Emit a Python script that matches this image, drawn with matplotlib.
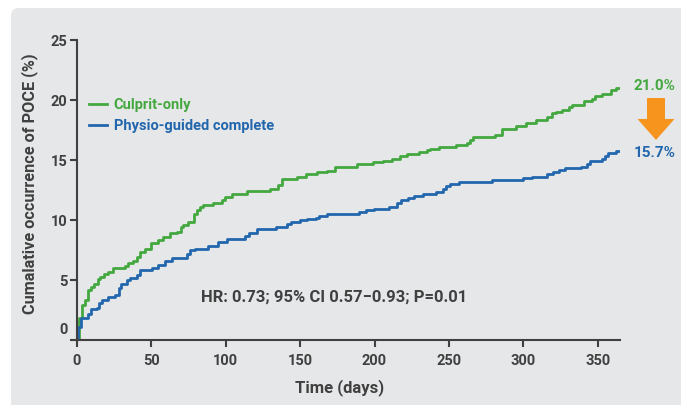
import matplotlib
matplotlib.use("Agg")
import matplotlib.pyplot as plt
from matplotlib.patches import FancyBboxPatch, FancyArrow
from matplotlib.transforms import ScaledTranslation

# Kaplan-Meier style cumulative curves
culprit_days = [0, 1.3, 3.6, 5.4, 7.2, 9.4, 11.6, 13.9, 15.5, 18.4, 21, 24.4, 32.3, 34.5,
                37.9, 40, 42.3, 45.7, 49.7, 54.6, 58, 62.5, 67, 69.9, 71.5, 74.8, 78.8,
                80.4, 82.7, 84.9, 91.6, 97.2, 99.5, 104, 114, 129.7, 135, 138, 147.6,
                153.9, 161, 168, 173.4, 188, 199, 206, 212, 217, 222, 230, 235, 237,
                243.5, 255, 262, 264, 266.3, 281, 286, 295, 302, 308.5, 316, 319.4, 322,
                325.7, 331, 332.8, 340.7, 346, 348, 352.6, 359, 362, 365]
culprit_vals = [0, 1.8, 2.9, 3.3, 4.2, 4.4, 4.7, 5.05, 5.25, 5.5, 5.7, 5.97, 6.2, 6.4,
                6.6, 6.95, 7.3, 7.6, 8.05, 8.3, 8.6, 8.9, 9.0, 9.4, 9.6, 9.85, 10.5,
                10.8, 11.05, 11.25, 11.4, 11.7, 11.95, 12.2, 12.4, 12.6, 12.9, 13.4, 13.6,
                13.8, 14.0, 14.1, 14.4, 14.7, 14.8, 14.9, 15.1, 15.3, 15.5, 15.7, 15.8, 15.95,
                16.1, 16.25, 16.4, 16.7, 16.95, 17.1, 17.6, 17.85, 18.05, 18.3, 18.55, 18.9, 19.0,
                19.2, 19.45, 19.6, 19.95, 20.1, 20.3, 20.5, 20.8, 21.0, 21.0]

physio_days = [0, 0.9, 2.7, 7.2, 9.4, 13.2, 14.8, 17, 21, 25.5, 28.2, 29.6, 33.4, 35.6,
               40.1, 42.3, 50.2, 54.6, 59.1, 63.6, 73.7, 76, 79.3, 88.2, 95, 101, 113,
               115.8, 121, 134, 141.3, 144, 150, 154.8, 160.6, 162.8, 167.8, 189.7, 194,
               199.6, 210, 215, 218, 222.7, 226.5, 232.7, 241.3, 245.8, 248, 250.7, 257,
               278.7, 300, 305.6, 315.7, 319.7, 324, 328, 338.5, 343, 344.8, 352.6, 354.8,
               357, 362, 365]
physio_vals = [0, 1.1, 1.8, 2.2, 2.55, 2.7, 3.05, 3.3, 3.55, 3.75, 4.3, 4.7, 5.0, 5.2,
               5.4, 5.8, 6.0, 6.25, 6.6, 6.85, 7.2, 7.5, 7.6, 7.8, 8.2, 8.4, 8.65,
               8.9, 9.25, 9.45, 9.65, 9.85, 10.0, 10.1, 10.2, 10.35, 10.5, 10.65, 10.8,
               10.95, 11.1, 11.4, 11.65, 11.85, 12.0, 12.15, 12.35, 12.55, 12.8, 13.0, 13.2,
               13.35, 13.5, 13.6, 13.8, 14.0, 14.2, 14.3, 14.45, 14.65, 14.95, 15.1, 15.3,
               15.6, 15.75, 15.75]

series_names = ["Culprit-only", "Physio-guided complete"]
end_labels = ["21.0%", "15.7%"]
x_ticks = [0, 50, 100, 150, 200, 250, 300, 350]
y_ticks = [0, 5, 10, 15, 20, 25]

GREEN = "#44a840"
BLUE = "#2267ad"
DARK = "#404040"
PANEL = "#e6e7e8"

plt.rcParams["font.family"] = ["Roboto", "DejaVu Sans"]
plt.rcParams["font.weight"] = "bold"

fig = plt.figure(figsize=(6.81, 4.05), dpi=100, facecolor="white")

# grey rounded panel behind the chart
panel = FancyBboxPatch((0.11, -0.2), 7.0, 4.17, boxstyle="round,pad=0,rounding_size=0.08",
                       transform=fig.dpi_scale_trans, facecolor=PANEL, edgecolor="none",
                       zorder=-10)
fig.add_artist(panel)

ax = fig.add_axes([77 / 681, 65 / 405, 543 / 681, 300 / 405])
ax.set_facecolor("none")

ax.step(culprit_days, culprit_vals, where="post", color=GREEN, lw=2, label=series_names[0])
ax.step(physio_days, physio_vals, where="post", color=BLUE, lw=2, label=series_names[1])

ax.set_xlim(0, 365)
ax.set_ylim(0, 25)
ax.set_xticks(x_ticks)
ax.set_yticks(y_ticks)

for side in ["top", "right"]:
    ax.spines[side].set_visible(False)
for side in ["left", "bottom"]:
    ax.spines[side].set_color(DARK)
    ax.spines[side].set_linewidth(1.5)
ax.tick_params(colors=DARK, width=1.5, length=5, labelsize=10.5)
ax.tick_params(axis="x", pad=5)
ax.tick_params(axis="y", pad=2)

# the "0" on the y axis sits a bit higher than the axis line
zero_lab = ax.get_yticklabels()[0]
zero_lab.set_transform(zero_lab.get_transform() + ScaledTranslation(0, 0.11, fig.dpi_scale_trans))

fig.text(30 / 681, 1 - 184 / 405, "Cumalative occurrence of POCE (%)", rotation=90,
         ha="center", va="center", fontsize=11.7, color=DARK)
fig.text(340 / 681, 1 - 388 / 405, "Time (days)", ha="center", va="center",
         fontsize=12, color=DARK)
fig.text(201 / 681, 1 - 297 / 405, "HR: 0.73; 95% CI 0.57\u22120.93; P=0.01",
         ha="left", va="center", fontsize=12, color=DARK)

leg = ax.legend(loc="upper left", bbox_to_anchor=(0.022, 0.807), frameon=False,
                handlelength=1.25, handletextpad=0.45, labelspacing=0.5,
                borderpad=0, borderaxespad=0, fontsize=10.5, labelcolor="linecolor")

ax.text(388, culprit_vals[-1] + 0.15, end_labels[0], color=GREEN, fontsize=11,
        ha="center", va="center", clip_on=False)
ax.text(388, physio_vals[-1] - 0.15, end_labels[1], color=BLUE, fontsize=11,
        ha="center", va="center", clip_on=False)

arrow = FancyArrow(6.56, 3.07, 0, -0.42, width=0.18, head_width=0.37, head_length=0.21,
                   length_includes_head=True, transform=fig.dpi_scale_trans,
                   facecolor="#f7941d", edgecolor="none")
fig.add_artist(arrow)

fig.savefig("out.png", dpi=100)
